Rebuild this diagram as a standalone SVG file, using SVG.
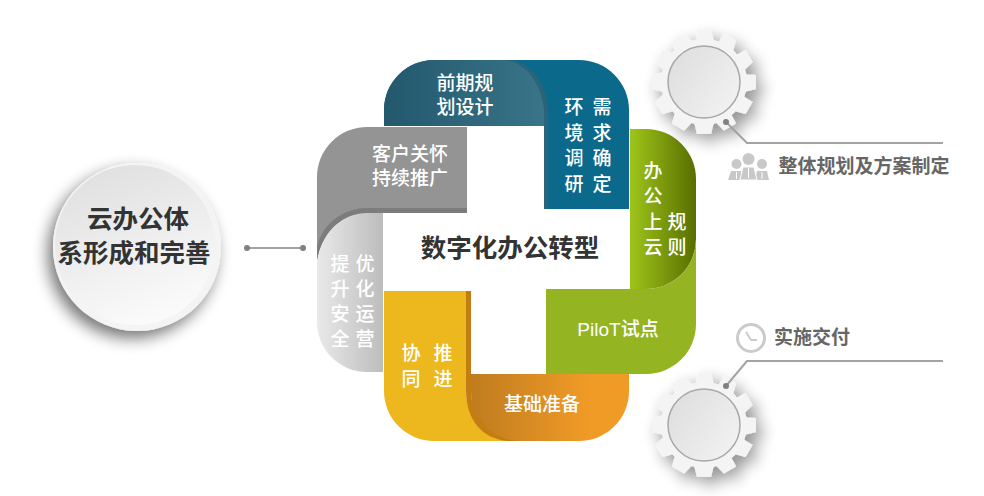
<svg xmlns="http://www.w3.org/2000/svg" xmlns:xlink="http://www.w3.org/1999/xlink" width="984" height="496" viewBox="0 0 984 496">
<style>
text{font-family:"Liberation Sans","Noto Sans CJK SC",sans-serif;text-anchor:middle}
.w{fill:#fff;font-size:19px;font-weight:500}
.h{fill:#333;font-size:25.5px;font-weight:700}
.g{fill:#666;font-size:19px;font-weight:700}
.line{fill:none;stroke:#a3a3a3;stroke-width:2}
.dot{fill:#808080}
.ic{fill:#c8c8c8}
</style>
<defs>
<linearGradient id="gTeal" x1="0" x2="1" y1="0" y2="0"><stop offset="0" stop-color="#23586d"/><stop offset="1" stop-color="#397488"/></linearGradient>
<linearGradient id="gLight" x1="0" x2="1" y1="0" y2="0"><stop offset="0" stop-color="#e9e9e9"/><stop offset="1" stop-color="#bdbdbd"/></linearGradient>
<linearGradient id="gOrange" x1="0" x2="1" y1="0" y2="0"><stop offset="0" stop-color="#bf7c1e"/><stop offset="0.75" stop-color="#f19b27"/></linearGradient>
<linearGradient id="gGreen" x1="0" x2="1" y1="0" y2="0"><stop offset="0" stop-color="#9fc51a"/><stop offset="1" stop-color="#586e00"/></linearGradient>
<linearGradient id="gDisc" x1="0.2" x2="0.6" y1="0" y2="1"><stop offset="0" stop-color="#dfdfdf"/><stop offset="1" stop-color="#fbfbfb"/></linearGradient>
<linearGradient id="gFace" x1="0" x2="1" y1="0.2" y2="0.9"><stop offset="0" stop-color="#dedede"/><stop offset="1" stop-color="#f3f3f3"/></linearGradient>
<filter id="sh" x="-50%" y="-50%" width="200%" height="200%"><feGaussianBlur in="SourceAlpha" stdDeviation="8"/><feOffset dx="6" dy="7"/><feComponentTransfer><feFuncA type="linear" slope="0.42"/></feComponentTransfer><feMerge><feMergeNode/><feMergeNode in="SourceGraphic"/></feMerge></filter>
<filter id="sh2" x="-30%" y="-30%" width="160%" height="160%"><feGaussianBlur in="SourceAlpha" stdDeviation="8"/><feOffset dx="-5" dy="7"/><feComponentTransfer><feFuncA type="linear" slope="0.55"/></feComponentTransfer><feMerge><feMergeNode/><feMergeNode in="SourceGraphic"/></feMerge></filter>
<polygon id="tooth" points="-7,-52 7,-52 10,-40 -10,-40 -10,40 -7,52 7,52 10,40 -10,40" fill="#f4f4f4"/>
<g id="gear">
<g filter="url(#sh)">
<circle r="43" fill="#f4f4f4"/>
<use xlink:href="#tooth" href="#tooth"/>
<use xlink:href="#tooth" href="#tooth" transform="rotate(30)"/>
<use xlink:href="#tooth" href="#tooth" transform="rotate(60)"/>
<use xlink:href="#tooth" href="#tooth" transform="rotate(90)"/>
<use xlink:href="#tooth" href="#tooth" transform="rotate(120)"/>
<use xlink:href="#tooth" href="#tooth" transform="rotate(150)"/>
</g>
<circle r="36" fill="url(#gFace)" stroke="#a8a8a8" stroke-width="1.5"/>
</g>
</defs>
<rect width="984" height="496" fill="#fff"/>

<g id="connectors">
<line class="line" x1="247" y1="248" x2="303" y2="248"/>
<circle class="dot" cx="247" cy="248" r="3"/><circle class="dot" cx="303" cy="248" r="3"/>
</g>

<g id="node-circle">
<circle cx="137" cy="247" r="84" fill="#f4f4f4" filter="url(#sh2)"/>
<circle cx="135" cy="245" r="80" fill="url(#gDisc)"/>
<text class="h" x="138" y="228">云办公体</text>
<text class="h" x="134" y="262">系形成和完善</text>
</g>

<g id="node-light">
<path d="M317 250C322 230 342 213 367 213H383V372H367A50 50 0 0 1 317 322Z" fill="url(#gLight)"/>
<text class="w" x="340" y="271">提</text><text class="w" x="340" y="296">升</text><text class="w" x="340" y="321">安</text><text class="w" x="340" y="346">全</text>
<text class="w" x="365" y="271">优</text><text class="w" x="365" y="296">化</text><text class="w" x="365" y="321">运</text><text class="w" x="365" y="346">营</text>
</g>

<g id="node-teal">
<path d="M384 126V110A50 50 0 0 1 434 60H579A50 50 0 0 1 629 110V209H544V126Z" fill="#0b6a8b"/>
<path d="M384 126V110A50 50 0 0 1 434 60H505C525 62 541 82 544 108V126Z" fill="url(#gTeal)"/>
<path d="M505 60H512C532 64 546 84 548 108V209H544V108C541 82 525 62 505 60Z" fill="#2b6479"/>
<text class="w" x="465" y="90">前期规</text>
<text class="w" x="465" y="114">划设计</text>
<text class="w" x="574" y="114">环</text><text class="w" x="574" y="140">境</text><text class="w" x="574" y="165">调</text><text class="w" x="574" y="191">研</text>
<text class="w" x="602" y="114">需</text><text class="w" x="602" y="140">求</text><text class="w" x="602" y="165">确</text><text class="w" x="602" y="191">定</text>
</g>

<g id="node-gray">
<path d="M317 260V177A50 50 0 0 1 367 127H467V213H367C342 213 322 232 317 260Z" fill="#949494"/>
<path d="M467 208H367C340 208 320 228 317 248V260C322 232 342 213 367 213H467Z" fill="#7c7c7c"/>
<text class="w" x="410" y="161">客户关怀</text>
<text class="w" x="410" y="185">持续推广</text>
</g>

<g id="node-orange">
<path d="M471 374H629V391A50 50 0 0 1 579 441H510C485 441 471 420 471 390Z" fill="url(#gOrange)"/>
<text class="w" x="542" y="411">基础准备</text>
</g>

<g id="node-yellow">
<path d="M384 291H466V390C466 418 484 441 512 441H434A50 50 0 0 1 384 391Z" fill="#edb81e"/>
<path d="M466 291H471V390C471 415 488 437 515 441H508C482 439 466 420 466 390Z" fill="#c47d12"/>
<text class="w" x="411" y="360">协</text><text class="w" x="411" y="386">同</text>
<text class="w" x="443" y="360">推</text><text class="w" x="443" y="386">进</text>
</g>

<g id="node-green-top">
<path d="M630 129H646A50 50 0 0 1 696 179V239A50 50 0 0 1 646 289H630Z" fill="url(#gGreen)"/>
<text class="w" x="653" y="178">办</text><text class="w" x="653" y="203">公</text><text class="w" x="653" y="229">上</text><text class="w" x="653" y="254">云</text>
<text class="w" x="677" y="229">规</text><text class="w" x="677" y="254">则</text>
</g>

<g id="node-green-bottom">
<path d="M546 289H646A50 50 0 0 0 696 239V324A50 50 0 0 1 646 374H546Z" fill="#94b422"/>
<text class="w" x="618" y="336">PiloT试点</text>
</g>

<g id="node-center">
<text class="h" x="510" y="257">数字化办公转型</text>
</g>

<g id="node-gear-top" transform="translate(704 82)"><use xlink:href="#gear" href="#gear"/></g>
<g id="node-gear-bottom" transform="translate(704 425)"><use xlink:href="#gear" href="#gear"/></g>

<g id="connectors-right">
<polyline class="line" points="726,122 747,143 943,143"/>
<circle class="dot" cx="726" cy="122" r="3"/>
<polyline class="line" points="726,386 747,361 943,361"/>
<circle class="dot" cx="726" cy="386" r="3"/>
</g>

<g id="node-plan">
<circle class="ic" cx="736.5" cy="164" r="5"/><circle class="ic" cx="762" cy="164" r="5"/>
<path class="ic" d="M728 180L731 171H741L743 180Z"/><path class="ic" d="M755 180L757 171H767L769 180Z"/>
<circle class="ic" cx="748.5" cy="159" r="6"/>
<path class="ic" d="M740 180L743 167H754L757 180Z" stroke="#fff" stroke-width="1"/>
<path d="M748.5 168V178M736.5 172V179M762 172V179" stroke="#fff" stroke-width="1" fill="none"/>
<text class="g" x="864" y="173">整体规划及方案制定</text>
</g>

<g id="node-delivery">
<circle cx="751" cy="338" r="13.5" fill="none" stroke="#cbcbcb" stroke-width="3"/>
<path d="M746 332L751 340H757" fill="none" stroke="#cbcbcb" stroke-width="2"/>
<text class="g" x="812" y="344">实施交付</text>
</g>
</svg>
